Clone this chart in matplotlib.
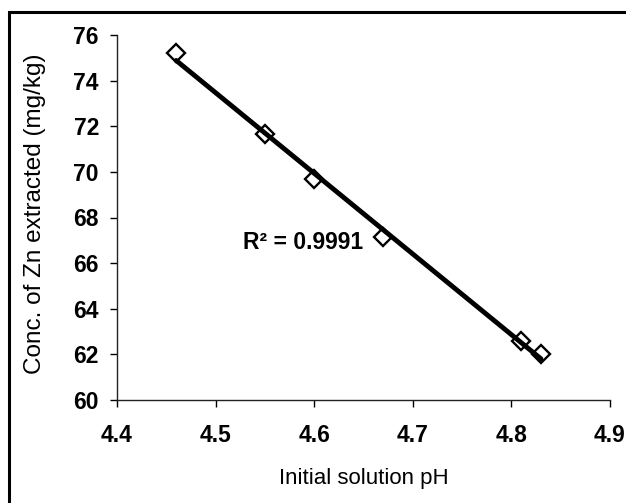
import numpy as np
import matplotlib
matplotlib.use("Agg")
import matplotlib.pyplot as plt
from matplotlib.patches import Rectangle

plt.rcParams['font.family'] = ['Liberation Sans', 'DejaVu Sans']

# initial pH vs Zn extracted
ph = [4.46, 4.55, 4.60, 4.67, 4.81, 4.83]
zn = [75.2, 71.65, 69.7, 67.15, 62.6, 62.0]
xticks = [4.4, 4.5, 4.6, 4.7, 4.8, 4.9]
yticks = [60, 62, 64, 66, 68, 70, 72, 74, 76]
r2_label = "R\u00b2 = 0.9991"

fig = plt.figure(figsize=(6.26, 5.03), dpi=100)
ax = fig.add_axes([117 / 626, 1 - 400 / 503, 493 / 626, 365 / 503])

# linear trend line
slope, intercept = np.polyfit(ph, zn, 1)
xs = np.array([min(ph), max(ph)])
ax.plot(xs, slope * xs + intercept, color='black', lw=3.5, zorder=2,
        solid_capstyle='round')
ax.plot(ph, zn, linestyle='none', marker='D', ms=9.5, mfc='none',
        mec='black', mew=1.7, zorder=3)

ax.text(4.528, 66.62, r2_label, fontsize=16.5, fontweight='bold',
        ha='left', va='baseline')

ax.set_xlim(4.4, 4.9)
ax.set_ylim(60, 76)
ax.set_xticks(xticks)
ax.set_yticks(yticks)
ax.set_xticklabels([f"{t:.1f}" for t in xticks], fontsize=16.5, fontweight='bold')
ax.set_yticklabels([str(t) for t in yticks], fontsize=16.5, fontweight='bold')
ax.tick_params(axis='x', direction='out', length=5, width=1, pad=12)
ax.tick_params(axis='y', direction='out', length=5, width=1, pad=8)

for side in ['top', 'right']:
    ax.spines[side].set_visible(False)
for side in ['left', 'bottom']:
    ax.spines[side].set_linewidth(1)
    ax.spines[side].set_color('#222222')

ax.set_xlabel("Initial solution pH", fontsize=16)
ax.set_ylabel("Conc. of Zn extracted (mg/kg)", fontsize=17.5)
ax.xaxis.set_label_coords(0.5, -0.185)
ax.yaxis.set_label_coords(-0.145, 0.51)

# outer frame around the chart
fig.patches.append(Rectangle((9 / 626, -0.2), 1.2, 1.2 - 12 / 503,
                             transform=fig.transFigure, fill=False,
                             edgecolor='black', lw=2.2, clip_on=False))

fig.savefig("out.png", dpi=100)
